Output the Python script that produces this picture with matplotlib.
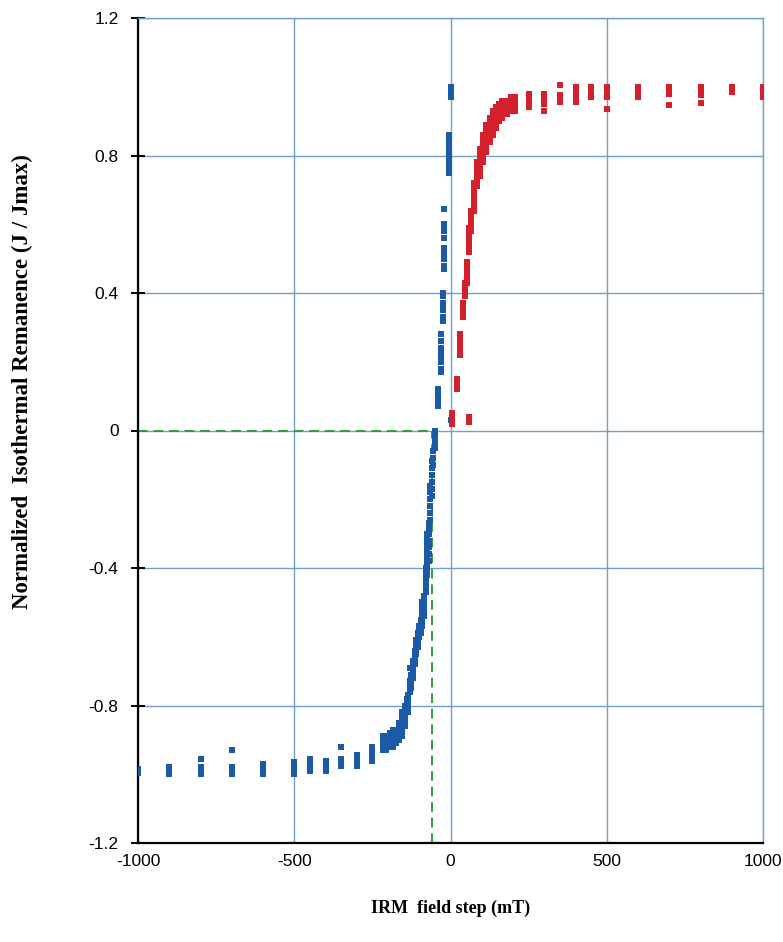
import matplotlib
matplotlib.use("Agg")
import matplotlib.pyplot as plt

# ---------------- data ----------------
# Backfield (blue): field step (mT) and normalized remanence values of the specimens
blue_field = [-1000, -900, -800, -700, -600, -500, -450, -400, -350, -300, -250,
              -215, -205, -195, -185, -175, -165, -155, -145, -140, -135, -130,
              -125, -120, -115, -110, -105, -100, -95, -90, -85, -80, -75, -70,
              -65, -60, -55, -50, -40, -30, -25, -22, -5, 0, 2]
blue_values = [
    [-0.985, -0.995],
    [-0.98, -0.99, -1.0],
    [-0.955, -0.98, -0.99, -1.0],
    [-0.93, -0.98, -0.99, -1.0],
    [-0.97, -0.98, -0.99, -1.0],
    [-0.965, -0.975, -0.985, -0.995, -1.0],
    [-0.955, -0.965, -0.975, -0.985, -0.99],
    [-0.96, -0.97, -0.98, -0.99],
    [-0.92, -0.955, -0.965, -0.975],
    [-0.945, -0.955, -0.965, -0.975],
    [-0.92, -0.93, -0.94, -0.95, -0.96],
    [-0.93, -0.92, -0.91, -0.90, -0.89],
    [-0.93, -0.92, -0.91, -0.90, -0.89],
    [-0.92, -0.91, -0.90, -0.89, -0.88],
    [-0.92, -0.91, -0.90, -0.89, -0.88, -0.87],
    [-0.91, -0.90, -0.89, -0.88, -0.87],
    [-0.90, -0.89, -0.88, -0.87, -0.86, -0.85],
    [-0.89, -0.88, -0.87, -0.86, -0.85, -0.84, -0.83, -0.82],
    [-0.86, -0.85, -0.84, -0.83, -0.82, -0.81, -0.80],
    [-0.80, -0.79, -0.78],
    [-0.82, -0.81, -0.80, -0.79, -0.78, -0.77],
    [-0.76, -0.75, -0.74, -0.73, -0.69],
    [-0.75, -0.74, -0.73, -0.72, -0.71],
    [-0.72, -0.71, -0.70, -0.69, -0.68, -0.67],
    [-0.68, -0.67, -0.66, -0.65, -0.64],
    [-0.65, -0.64, -0.63, -0.62, -0.61],
    [-0.63, -0.62, -0.61, -0.60, -0.59],
    [-0.60, -0.59, -0.58, -0.57],
    [-0.59, -0.58, -0.57, -0.56, -0.55],
    [-0.57, -0.56, -0.55, -0.54, -0.53, -0.52, -0.51, -0.50],
    [-0.54, -0.53, -0.52, -0.51, -0.50, -0.49, -0.48],
    [-0.47, -0.46, -0.45, -0.44, -0.43, -0.42, -0.41, -0.40],
    [-0.42, -0.41, -0.40, -0.39, -0.38, -0.37, -0.36, -0.35, -0.34, -0.33, -0.32, -0.31, -0.30],
    [-0.38, -0.36, -0.34, -0.32, -0.30, -0.29, -0.28, -0.27],
    [-0.26, -0.24, -0.22, -0.20, -0.18, -0.16],
    [-0.19, -0.17, -0.15, -0.13, -0.11, -0.09],
    [-0.10, -0.08, -0.06],
    [-0.05, -0.04, -0.03, -0.02, -0.01, 0.0],
    [0.07, 0.08, 0.09, 0.10, 0.11, 0.12],
    [0.17, 0.18, 0.20, 0.21, 0.22, 0.23, 0.24, 0.26, 0.28],
    [0.32, 0.33, 0.35, 0.36, 0.37, 0.39, 0.40],
    [0.47, 0.48, 0.50, 0.51, 0.52, 0.53, 0.56, 0.58, 0.59, 0.60, 0.645],
    [0.75, 0.76, 0.77, 0.78, 0.79, 0.80, 0.81, 0.82, 0.83, 0.84, 0.85, 0.86],
    [0.97, 0.98, 0.99, 1.0],
    [0.03],
]

# Forward IRM acquisition (red)
red_field = [5, 60, 20, 30, 40, 45, 52, 60, 65, 75, 85, 95, 105, 115, 125, 135,
             145, 155, 165, 180, 195, 205, 250, 300, 350, 400, 450, 500, 600,
             700, 800, 900, 1000]
red_values = [
    [0.02, 0.03, 0.04, 0.05],
    [0.025, 0.04],
    [0.12, 0.13, 0.14, 0.15],
    [0.22, 0.23, 0.24, 0.25, 0.26, 0.27, 0.28],
    [0.33, 0.34, 0.35, 0.36, 0.37],
    [0.39, 0.40, 0.41, 0.42, 0.43],
    [0.43, 0.44, 0.45, 0.46, 0.47, 0.48, 0.49],
    [0.52, 0.53, 0.54, 0.55, 0.56, 0.57, 0.58, 0.59],
    [0.58, 0.59, 0.60, 0.61, 0.62, 0.63, 0.64],
    [0.64, 0.65, 0.66, 0.67, 0.68, 0.69, 0.70, 0.71, 0.72],
    [0.71, 0.72, 0.73, 0.74, 0.75, 0.76, 0.77, 0.78],
    [0.74, 0.75, 0.76, 0.77, 0.78, 0.79, 0.80, 0.81, 0.82],
    [0.78, 0.79, 0.80, 0.81, 0.82, 0.83, 0.84, 0.85, 0.86],
    [0.81, 0.82, 0.83, 0.84, 0.85, 0.86, 0.87, 0.88, 0.89],
    [0.84, 0.85, 0.86, 0.87, 0.88, 0.89, 0.90, 0.91],
    [0.86, 0.87, 0.88, 0.89, 0.90, 0.91, 0.92, 0.93],
    [0.88, 0.89, 0.90, 0.91, 0.92, 0.93, 0.94],
    [0.90, 0.91, 0.92, 0.93, 0.94, 0.95],
    [0.91, 0.92, 0.93, 0.94, 0.95, 0.96],
    [0.92, 0.93, 0.94, 0.95, 0.96],
    [0.93, 0.94, 0.95, 0.96, 0.97],
    [0.93, 0.94, 0.95, 0.96, 0.97],
    [0.94, 0.95, 0.96, 0.97, 0.98],
    [0.93, 0.95, 0.96, 0.97, 0.98],
    [0.955, 0.965, 0.975, 1.005],
    [0.955, 0.965, 0.975, 0.985, 0.995, 1.0],
    [0.97, 0.98, 0.99, 1.0],
    [0.935, 0.97, 0.98, 0.99, 1.0],
    [0.97, 0.98, 0.99, 1.0],
    [0.946, 0.98, 0.99, 1.0],
    [0.953, 0.975, 0.985, 0.995, 1.0],
    [0.985, 0.995, 1.0],
    [0.97, 0.98, 0.99, 1.0],
]

# coercivity of remanence (field where backfield curve crosses zero), mT
bcr = -60

x_ticks = [-1000, -500, 0, 500, 1000]
x_ticklabels = ["-1000", "-500", "0", "500", "1000"]
y_ticks = [-1.2, -0.8, -0.4, 0, 0.4, 0.8, 1.2]
y_ticklabels = ["-1.2", "-0.8", "-0.4", "0", "0.4", "0.8", "1.2"]

# ---------------- plotting ----------------
bx = [f for f, vals in zip(blue_field, blue_values) for _ in vals]
by = [v for vals in blue_values for v in vals]
rx = [f for f, vals in zip(red_field, red_values) for _ in vals]
ry = [v for vals in red_values for v in vals]

grid_col = "#6f9fd2"
fig = plt.figure(figsize=(7.83, 9.42), dpi=100)
ax = fig.add_axes([138 / 783, 1 - 843 / 942, 625 / 783, 825 / 942])
ax.set_xlim(-1000, 1000)
ax.set_ylim(-1.2, 1.2)

ax.set_xticks(x_ticks)
ax.set_xticklabels(x_ticklabels)
ax.set_yticks(y_ticks)
ax.set_yticklabels(y_ticklabels)
ax.grid(True, color=grid_col, lw=1.0, zorder=0)
ax.set_axisbelow(True)

# green dashed guides at Bcr
ax.plot([-1000, bcr], [0, 0], color="#2e9e3a", lw=1.4, ls=(0, (5, 3)), zorder=2)
ax.plot([bcr, bcr], [-1.2, 0], color="#2e9e3a", lw=1.4, ls=(0, (5, 3)), zorder=2)

ax.scatter(bx, by, marker="s", s=13, color="#1c5aa5", linewidths=0, zorder=3)
ax.scatter(rx, ry, marker="s", s=15, color="#d4202c", linewidths=0, zorder=3)

for side in ["left", "bottom"]:
    ax.spines[side].set_color("black")
    ax.spines[side].set_linewidth(1.6)
for side in ["top", "right"]:
    ax.spines[side].set_color(grid_col)
    ax.spines[side].set_linewidth(1.0)

ax.tick_params(axis="y", direction="inout", length=10, width=1.4, pad=9,
               labelsize=12.5)
ax.tick_params(axis="x", length=0, pad=8, labelsize=12.5)
for lab in ax.get_xticklabels() + ax.get_yticklabels():
    lab.set_family(["Liberation Sans", "DejaVu Sans"])

ax.set_xlabel("IRM  field step (mT)", family=["Liberation Serif", "DejaVu Serif"],
              fontweight="bold", fontsize=13, va="center")
ax.xaxis.set_label_coords(0.5, (843 - 908) / 825)
ax.set_ylabel("Normalized  Isothermal Remanence (J / Jmax)",
              family=["Liberation Serif", "DejaVu Serif"],
              fontweight="bold", fontsize=16.5, va="center")
ax.yaxis.set_label_coords((22 - 138) / 625, (843 - 382) / 825)

fig.savefig("out.png", dpi=100, facecolor="white")
